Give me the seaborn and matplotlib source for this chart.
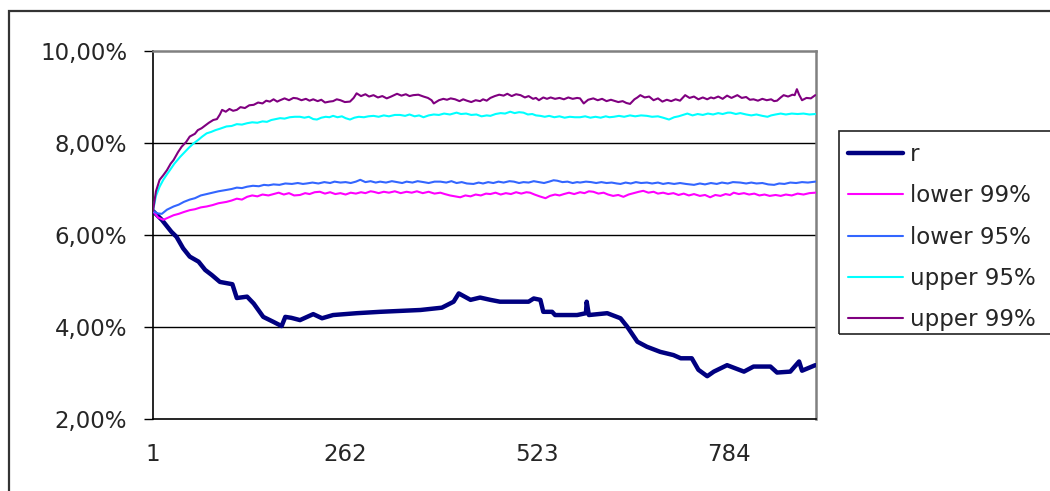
import numpy as np
import pandas as pd
import matplotlib
matplotlib.use("Agg")
import matplotlib.pyplot as plt
from matplotlib.ticker import FixedLocator, FuncFormatter
from matplotlib.patches import Rectangle
from matplotlib.lines import Line2D
import seaborn as sns

n_obs = 903
x_ticks = [1, 262, 523, 784]
y_ticks = [2, 4, 6, 8, 10]

r_x = [1, 13, 26, 33, 42, 51, 63, 72, 81, 92, 109, 115, 129, 138, 151, 165, 176, 181,
       189, 201, 219, 231, 246, 278, 310, 365, 394, 410, 417, 433, 446, 460, 473, 512,
       519, 528, 532, 544, 548, 578, 590, 591, 594, 619, 637, 646, 660, 673, 691, 709,
       719, 734, 743, 755, 764, 782, 805, 818, 841, 850, 868, 880, 884, 902]
r_y = [6.52, 6.33, 6.07, 5.96, 5.71, 5.53, 5.42, 5.24, 5.13, 4.98, 4.93, 4.63, 4.66, 4.51,
       4.22, 4.11, 4.02, 4.22, 4.20, 4.15, 4.28, 4.19, 4.26, 4.30, 4.33, 4.37, 4.42, 4.55,
       4.73, 4.59, 4.64, 4.59, 4.55, 4.55, 4.62, 4.59, 4.33, 4.33, 4.26, 4.26, 4.30, 4.55,
       4.26, 4.30, 4.19, 4.01, 3.68, 3.57, 3.46, 3.39, 3.32, 3.32, 3.07, 2.93, 3.03, 3.17,
       3.03, 3.14, 3.14, 3.01, 3.03, 3.25, 3.05, 3.17]

lo99_x = [1, 8, 15, 22, 29, 36, 43, 51, 58, 66, 74, 82, 90, 101, 108, 115, 122, 129, 136,
          143, 150, 158, 165, 172, 179, 186, 193, 201, 208, 214, 221, 228, 235, 242, 249,
          256, 263, 270, 277, 284, 290, 297, 301, 308, 315, 322, 330, 338, 346, 353, 360,
          368, 376, 384, 392, 398, 405, 412, 419, 426, 433, 440, 447, 454, 460, 467, 474,
          481, 488, 495, 502, 509, 514, 520, 527, 535, 541, 548, 554, 560, 567, 574, 582,
          588, 594, 600, 607, 614, 620, 627, 634, 641, 648, 655, 662, 668, 675, 682, 688,
          695, 702, 709, 716, 723, 730, 737, 745, 752, 759, 766, 773, 780, 786, 791, 798,
          805, 812, 819, 826, 833, 840, 848, 855, 862, 870, 878, 886, 894, 902]
lo99_y = [6.52, 6.38, 6.33, 6.38, 6.43, 6.46, 6.50, 6.54, 6.56, 6.60, 6.62, 6.65, 6.69,
          6.72, 6.75, 6.79, 6.77, 6.83, 6.86, 6.84, 6.88, 6.86, 6.89, 6.92, 6.88, 6.91,
          6.86, 6.87, 6.91, 6.89, 6.93, 6.94, 6.90, 6.93, 6.89, 6.91, 6.88, 6.92, 6.90,
          6.93, 6.91, 6.95, 6.94, 6.91, 6.94, 6.92, 6.95, 6.91, 6.94, 6.92, 6.95, 6.91,
          6.94, 6.90, 6.92, 6.89, 6.86, 6.84, 6.82, 6.86, 6.84, 6.88, 6.86, 6.90, 6.89,
          6.92, 6.88, 6.91, 6.89, 6.93, 6.90, 6.93, 6.92, 6.88, 6.84, 6.80, 6.85, 6.88,
          6.86, 6.89, 6.92, 6.89, 6.93, 6.91, 6.95, 6.94, 6.90, 6.92, 6.88, 6.85, 6.87,
          6.83, 6.88, 6.91, 6.94, 6.96, 6.92, 6.94, 6.90, 6.92, 6.89, 6.91, 6.87, 6.90,
          6.86, 6.89, 6.85, 6.87, 6.82, 6.87, 6.85, 6.89, 6.87, 6.92, 6.89, 6.91, 6.88,
          6.90, 6.86, 6.88, 6.85, 6.87, 6.85, 6.88, 6.86, 6.90, 6.88, 6.91, 6.92]

lo95_x = [1, 7, 13, 20, 29, 36, 43, 51, 58, 66, 74, 82, 90, 101, 108, 115, 122, 129, 137,
          145, 152, 158, 165, 173, 181, 190, 198, 205, 210, 218, 226, 234, 242, 248, 256,
          263, 270, 277, 283, 290, 297, 304, 310, 318, 326, 333, 340, 346, 354, 361, 369,
          376, 384, 392, 400, 407, 414, 421, 428, 437, 444, 450, 457, 464, 471, 478, 486,
          492, 499, 505, 512, 519, 526, 533, 540, 546, 551, 558, 565, 572, 578, 582, 590,
          597, 604, 611, 618, 625, 632, 637, 644, 651, 658, 665, 673, 680, 688, 695, 702,
          710, 718, 726, 737, 745, 752, 760, 768, 775, 783, 790, 800, 808, 815, 822, 830,
          838, 846, 853, 860, 868, 876, 884, 892, 902]
lo95_y = [6.52, 6.47, 6.46, 6.55, 6.62, 6.66, 6.72, 6.77, 6.80, 6.86, 6.89, 6.92, 6.95,
          6.98, 7.00, 7.03, 7.02, 7.05, 7.07, 7.06, 7.09, 7.08, 7.10, 7.09, 7.12, 7.11,
          7.13, 7.11, 7.12, 7.14, 7.12, 7.15, 7.13, 7.16, 7.14, 7.15, 7.13, 7.16, 7.20,
          7.15, 7.17, 7.14, 7.16, 7.14, 7.17, 7.15, 7.13, 7.16, 7.14, 7.17, 7.15, 7.13,
          7.16, 7.16, 7.14, 7.17, 7.13, 7.15, 7.12, 7.11, 7.14, 7.12, 7.15, 7.13, 7.16,
          7.14, 7.17, 7.16, 7.13, 7.15, 7.14, 7.17, 7.15, 7.13, 7.16, 7.19, 7.18, 7.15,
          7.16, 7.13, 7.15, 7.14, 7.16, 7.15, 7.13, 7.15, 7.13, 7.14, 7.12, 7.11, 7.14,
          7.12, 7.15, 7.13, 7.14, 7.12, 7.14, 7.11, 7.13, 7.11, 7.13, 7.11, 7.09, 7.12,
          7.10, 7.13, 7.11, 7.14, 7.12, 7.15, 7.14, 7.12, 7.14, 7.12, 7.13, 7.10, 7.09,
          7.12, 7.11, 7.14, 7.13, 7.15, 7.14, 7.16]

up95_x = [1, 5, 10, 15, 20, 24, 30, 38, 44, 50, 56, 62, 68, 74, 80, 86, 92, 101, 108, 115,
          122, 129, 136, 143, 150, 156, 162, 168, 174, 180, 187, 194, 201, 207, 213, 219,
          224, 230, 236, 241, 246, 252, 258, 263, 269, 275, 281, 288, 294, 301, 308, 315,
          322, 330, 337, 344, 350, 357, 363, 369, 376, 383, 390, 397, 405, 414, 420, 427,
          434, 441, 448, 455, 460, 467, 474, 480, 487, 493, 499, 505, 511, 517, 522, 528,
          534, 540, 547, 554, 561, 568, 575, 582, 589, 596, 603, 610, 617, 622, 628, 635,
          642, 650, 657, 665, 673, 680, 688, 695, 703, 710, 716, 722, 728, 735, 742, 749,
          756, 763, 770, 776, 783, 787, 794, 800, 808, 815, 822, 830, 837, 842, 848, 855,
          862, 870, 878, 886, 894, 902]
up95_y = [6.52, 6.85, 7.05, 7.20, 7.32, 7.41, 7.55, 7.70, 7.80, 7.90, 7.99, 8.06, 8.14,
          8.21, 8.24, 8.28, 8.31, 8.36, 8.37, 8.41, 8.40, 8.43, 8.45, 8.44, 8.47, 8.46,
          8.50, 8.52, 8.54, 8.53, 8.56, 8.57, 8.57, 8.55, 8.57, 8.52, 8.51, 8.55, 8.57,
          8.56, 8.59, 8.56, 8.58, 8.54, 8.51, 8.55, 8.57, 8.56, 8.58, 8.59, 8.57, 8.60,
          8.58, 8.61, 8.61, 8.59, 8.62, 8.58, 8.60, 8.56, 8.60, 8.62, 8.61, 8.64, 8.62,
          8.66, 8.63, 8.64, 8.61, 8.62, 8.58, 8.60, 8.59, 8.63, 8.65, 8.64, 8.68, 8.65,
          8.67, 8.66, 8.62, 8.63, 8.60, 8.59, 8.57, 8.59, 8.56, 8.58, 8.55, 8.57, 8.56,
          8.56, 8.58, 8.55, 8.57, 8.55, 8.58, 8.56, 8.57, 8.59, 8.57, 8.60, 8.58, 8.60,
          8.59, 8.57, 8.58, 8.55, 8.51, 8.56, 8.58, 8.61, 8.64, 8.60, 8.63, 8.61, 8.64,
          8.62, 8.65, 8.63, 8.66, 8.66, 8.63, 8.65, 8.62, 8.60, 8.62, 8.59, 8.57, 8.60,
          8.62, 8.64, 8.62, 8.64, 8.63, 8.64, 8.62, 8.63]

up99_x = [1, 5, 10, 15, 20, 25, 29, 35, 40, 46, 51, 58, 62, 67, 72, 77, 83, 88, 92, 95,
          100, 105, 110, 115, 120, 126, 132, 138, 144, 150, 155, 160, 165, 170, 174, 180,
          186, 192, 197, 203, 209, 214, 219, 225, 230, 235, 241, 246, 251, 256, 262, 269,
          274, 278, 284, 290, 295, 301, 307, 313, 319, 325, 333, 339, 345, 350, 355, 362,
          369, 375, 380, 383, 390, 396, 401, 406, 412, 418, 423, 428, 434, 440, 446, 450,
          455, 460, 466, 472, 478, 483, 489, 495, 501, 507, 512, 518, 522, 526, 532, 537,
          542, 548, 554, 560, 566, 572, 578, 582, 587, 593, 600, 606, 612, 618, 624, 628,
          634, 640, 645, 650, 656, 660, 664, 670, 676, 682, 688, 694, 700, 706, 712, 718,
          725, 731, 737, 743, 749, 755, 760, 764, 770, 776, 782, 788, 792, 796, 802, 808,
          813, 818, 824, 830, 836, 842, 846, 850, 855, 859, 865, 871, 874, 877, 880, 884,
          890, 896, 902]
up99_y = [6.52, 6.95, 7.20, 7.30, 7.41, 7.55, 7.63, 7.80, 7.92, 8.02, 8.14, 8.20, 8.28,
          8.32, 8.38, 8.44, 8.50, 8.52, 8.62, 8.72, 8.68, 8.74, 8.70, 8.72, 8.78, 8.76,
          8.82, 8.83, 8.88, 8.86, 8.92, 8.90, 8.95, 8.90, 8.93, 8.97, 8.93, 8.98, 8.97,
          8.93, 8.96, 8.92, 8.95, 8.91, 8.94, 8.88, 8.90, 8.91, 8.95, 8.93, 8.89, 8.90,
          8.98, 9.08, 9.02, 9.06, 9.01, 9.04, 8.99, 9.02, 8.97, 9.01, 9.07, 9.03, 9.06,
          9.02, 9.04, 9.05, 9.01, 8.98, 8.93, 8.86, 8.93, 8.96, 8.94, 8.97, 8.95, 8.91,
          8.95, 8.92, 8.89, 8.93, 8.91, 8.95, 8.92, 8.98, 9.02, 9.05, 9.03, 9.07, 9.02,
          9.06, 9.04, 8.99, 9.02, 8.96, 8.98, 8.93, 8.99, 8.96, 8.99, 8.96, 8.98, 8.95,
          8.99, 8.96, 8.98, 8.97, 8.86, 8.94, 8.97, 8.93, 8.96, 8.91, 8.94, 8.92, 8.89,
          8.91, 8.87, 8.85, 8.95, 8.99, 9.04, 8.99, 9.01, 8.93, 8.97, 8.90, 8.94, 8.91,
          8.95, 8.92, 9.04, 8.98, 9.01, 8.95, 8.99, 8.95, 8.99, 8.97, 9.01, 8.96, 9.03,
          8.98, 9.01, 9.04, 8.98, 9.00, 8.94, 8.95, 8.92, 8.96, 8.93, 8.95, 8.91, 8.92,
          8.99, 9.04, 9.01, 9.05, 9.04, 9.17, 9.05, 8.93, 8.98, 8.97, 9.04]

series = [
    ("r", r_x, r_y, "#000080", 3.2),
    ("lower 99%", lo99_x, lo99_y, "#FF00FF", 1.5),
    ("lower 95%", lo95_x, lo95_y, "#3366FF", 1.5),
    ("upper 95%", up95_x, up95_y, "#00FFFF", 1.5),
    ("upper 99%", up99_x, up99_y, "#800080", 1.5),
]

sns.set_style("white")
plt.rcParams["font.family"] = ["DejaVu Sans"]
fs = 16.5

fig = plt.figure(figsize=(10.5, 4.91), dpi=100)
ax = fig.add_axes([153 / 1050, 72 / 491, 663 / 1050, 368 / 491])

# outer chart border (only top/left visible in the crop)
fig.patches.append(Rectangle((8.5 / 1050, -0.2), 1.2, (491 - 11) / 491 + 0.2,
                             transform=fig.transFigure, fill=False,
                             edgecolor="#333333", linewidth=1.6, zorder=0))
# legend box, runs off the right edge like the reference
fig.patches.append(Rectangle((839 / 1050, 1 - 334 / 491), 0.3, 203 / 491,
                             transform=fig.transFigure, fill=False,
                             edgecolor="#222222", linewidth=1.2, zorder=0))

for y in [4, 6, 8]:
    ax.axhline(y, color="black", linewidth=1.0, zorder=1)

handles = []
for name, xs, ys, color, lw in series:
    df = pd.DataFrame({"obs": xs, "rate": ys})
    sns.lineplot(data=df, x="obs", y="rate", ax=ax, color=color, linewidth=lw,
                 estimator=None, sort=False, zorder=3)
    handles.append(Line2D([], [], color=color, linewidth=lw, label=name))

ax.set_xlim(1, n_obs)
ax.set_ylim(2, 10)
ax.xaxis.set_major_locator(FixedLocator(x_ticks))
ax.yaxis.set_major_locator(FixedLocator(y_ticks))
ax.yaxis.set_major_formatter(FuncFormatter(lambda v, p: f"{v:.2f}".replace(".", ",") + "%"))
ax.set_xlabel("")
ax.set_ylabel("")
ax.tick_params(axis="y", length=6.5, width=1.0, color="black", pad=12, labelsize=fs,
               direction="out", left=True)
ax.tick_params(axis="x", length=0, pad=17, labelsize=fs)

for side in ["left", "bottom"]:
    ax.spines[side].set_color("black")
    ax.spines[side].set_linewidth(1.2)
for side in ["top", "right"]:
    ax.spines[side].set_color("#808080")
    ax.spines[side].set_linewidth(1.8)

leg = fig.legend(handles=handles, loc="upper left",
                 bbox_to_anchor=(841 / 1050, 1 - 136 / 491), fontsize=fs,
                 frameon=False, borderpad=0.3, labelspacing=0.8,
                 handlelength=2.4, handletextpad=0.3, borderaxespad=0)

fig.savefig("out.png", dpi=100)
